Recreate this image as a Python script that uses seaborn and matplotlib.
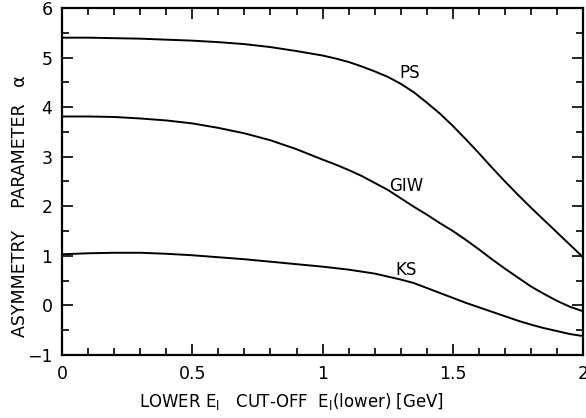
import matplotlib
matplotlib.use("Agg")
import matplotlib.pyplot as plt
from matplotlib.ticker import MultipleLocator
import seaborn as sns
import pandas as pd

# ---- data ----
ps_x = [0, 0.1, 0.2, 0.3, 0.4, 0.5, 0.6, 0.7, 0.8, 0.9, 1.0, 1.05, 1.1, 1.15, 1.2, 1.25,
        1.3, 1.35, 1.4, 1.45, 1.5, 1.55, 1.6, 1.65, 1.7, 1.75, 1.8, 1.85, 1.9, 1.95, 2.0]
ps_y = [5.40, 5.40, 5.39, 5.38, 5.36, 5.34, 5.31, 5.27, 5.21, 5.13, 5.04, 4.98, 4.91, 4.82, 4.72, 4.61,
        4.47, 4.30, 4.09, 3.87, 3.62, 3.35, 3.07, 2.78, 2.50, 2.23, 1.97, 1.72, 1.47, 1.22, 0.97]

giw_x = [0, 0.1, 0.2, 0.3, 0.4, 0.5, 0.6, 0.7, 0.8, 0.9, 1.0, 1.05, 1.1, 1.15, 1.2, 1.25,
         1.3, 1.35, 1.4, 1.45, 1.5, 1.55, 1.6, 1.65, 1.7, 1.75, 1.8, 1.85, 1.9, 1.95, 2.0]
giw_y = [3.81, 3.81, 3.80, 3.77, 3.73, 3.67, 3.58, 3.47, 3.33, 3.15, 2.94, 2.84, 2.73, 2.61, 2.47, 2.33,
         2.16, 1.99, 1.83, 1.66, 1.50, 1.32, 1.13, 0.93, 0.74, 0.56, 0.38, 0.23, 0.09, -0.03, -0.12]

ks_x = [0, 0.1, 0.2, 0.3, 0.4, 0.5, 0.6, 0.7, 0.8, 0.9, 1.0, 1.1, 1.2, 1.25, 1.3, 1.35,
        1.4, 1.45, 1.5, 1.55, 1.6, 1.65, 1.7, 1.75, 1.8, 1.85, 1.9, 1.95, 2.0]
ks_y = [1.03, 1.05, 1.06, 1.06, 1.04, 1.01, 0.97, 0.93, 0.88, 0.83, 0.78, 0.72, 0.64, 0.58, 0.52, 0.45,
        0.35, 0.25, 0.15, 0.05, -0.04, -0.13, -0.22, -0.31, -0.39, -0.46, -0.52, -0.58, -0.62]

labels = ["PS", "GIW", "KS"]
label_pos_x = [1.335, 1.32, 1.32]
label_pos_y = [4.68, 2.41, 0.72]

x_ticks = [0, 0.5, 1, 1.5, 2]
x_ticklabels = ["0", "0.5", "1", "1.5", "2"]
y_ticks = [-1, 0, 1, 2, 3, 4, 5, 6]

df = pd.concat([
    pd.DataFrame({"x": ps_x, "y": ps_y, "model": "PS"}),
    pd.DataFrame({"x": giw_x, "y": giw_y, "model": "GIW"}),
    pd.DataFrame({"x": ks_x, "y": ks_y, "model": "KS"}),
], ignore_index=True)

sns.set_style("ticks")
plt.rcParams["font.family"] = ["DejaVu Sans"]
plt.rcParams["text.color"] = "black"
plt.rcParams["axes.labelcolor"] = "black"
plt.rcParams["xtick.color"] = "black"
plt.rcParams["ytick.color"] = "black"

fig = plt.figure(figsize=(5.86, 4.18), dpi=100)
ax = fig.add_axes([0.106, 0.151, 0.889, 0.830])

sns.lineplot(data=df, x="x", y="y", hue="model", units="model", estimator=None,
             palette={"PS": "black", "GIW": "black", "KS": "black"},
             linewidth=1.4, legend=False, ax=ax, sort=True)

for lab, lx, ly in zip(labels, label_pos_x, label_pos_y):
    ax.text(lx, ly, lab, ha="center", va="center", fontsize=12, color="black")

ax.set_xlim(0, 2)
ax.set_ylim(-1, 6)
ax.set_xticks(x_ticks)
ax.set_xticklabels(x_ticklabels)
ax.set_yticks(y_ticks)
ax.xaxis.set_minor_locator(MultipleLocator(0.1))
ax.yaxis.set_minor_locator(MultipleLocator(0.5))
ax.tick_params(which="both", direction="in", top=True, right=True, labelsize=12.5, width=1.2,
               colors="black")
ax.tick_params(which="major", length=8)
ax.tick_params(which="minor", length=5)
ax.tick_params(axis="x", pad=7)
ax.tick_params(axis="y", pad=7)
for s in ax.spines.values():
    s.set_linewidth(1.6)
    s.set_color("black")

ax.set_xlabel("LOWER E$_\\mathregular{l}$   CUT-OFF  E$_\\mathregular{l}$(lower) [GeV]", fontsize=12,
              color="black")
ax.set_ylabel("ASYMMETRY    PARAMETER   α", fontsize=12.5, color="black")
ax.xaxis.set_label_coords(0.44, -0.105)
ax.yaxis.set_label_coords(-0.063, 0.43)

fig.savefig("out.png", dpi=100)
